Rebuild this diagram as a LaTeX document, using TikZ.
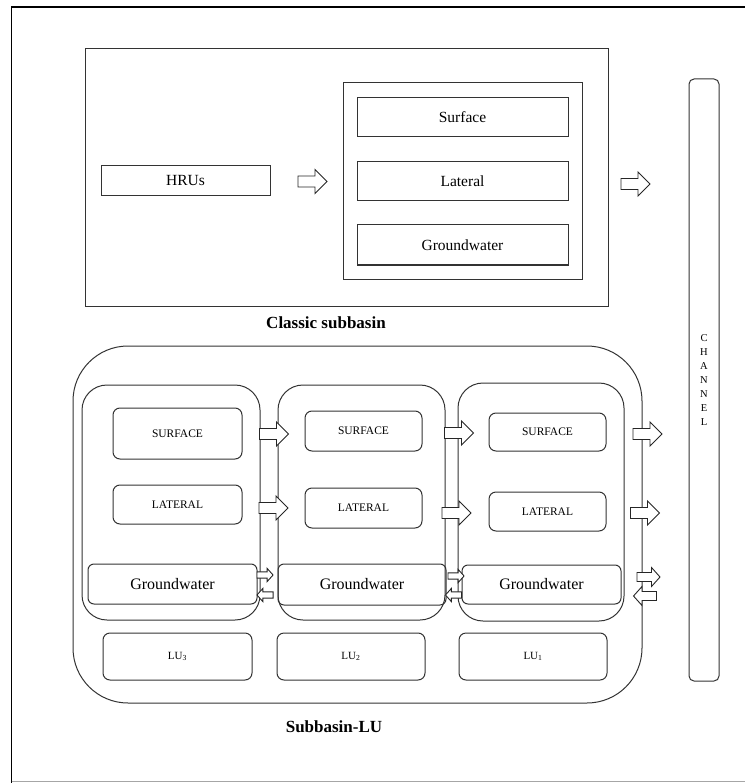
\documentclass[tikz,border=0pt]{standalone}
\usepackage{fontspec}
\setmainfont{Liberation Serif}
\usetikzlibrary{positioning}
\tikzset{>=latex,
    box/.style={draw=black!80, line width=1pt, inner sep=0pt, align=center},
    flatbox/.style={box, font=\fontsize{15.5}{18}\selectfont},
    capbox/.style={box, rounded corners=7pt, font=\fontsize{11.5}{14}\selectfont},
    gwbox/.style={box, rounded corners=6pt, font=\fontsize{16}{19}\selectfont},
    lubox/.style={box, rounded corners=7pt, font=\fontsize{11}{13}\selectfont},
    column/.style={box, rounded corners=25pt},
    title/.style={font=\bfseries\fontsize{17}{20}\selectfont},
    flowline/.style={draw=black!85, line width=0.9pt, fill=white, line join=miter},
    bigflow/.pic={\path[flowline] (-14.5,-5.5) -- (2.5,-5.5) -- (2.5,-12) -- (14.5,0)
        -- (2.5,12) -- (2.5,5.5) -- (-14.5,5.5) -- cycle;},
    smallflow/.pic={\path[flowline] (-11.5,-4.5) -- (3,-4.5) -- (3,-9.5) -- (11.5,0)
        -- (3,9.5) -- (3,4.5) -- (-11.5,4.5) -- cycle;}}

\begin{document}
\begin{tikzpicture}[x=1pt, y=-1pt]
    \useasboundingbox (0,0) rectangle (745,783);
    % page frame
    \draw[line width=1.8pt] (11.5,783) -- (11.5,6.7) -- (745,6.7);
    \draw[black!35, line width=1.4pt] (11.5,781.7) -- (745,781.7);

    % classic subbasin
    \node[box, minimum width=523, minimum height=257] (classic) at (346.5,177.5) {};
    \node[box, minimum width=239, minimum height=196] (routing) at (462.5,181) {};
    \node[flatbox, minimum width=211, minimum height=39] (surf) at (462.5,117.5) {Surface};
    \node[flatbox, minimum width=211, minimum height=39] (lat) at (462.5,181.5) {Lateral};
    \node[flatbox, minimum width=211, minimum height=40] (gw) at (462.5,245) {Groundwater};
    \node[flatbox, minimum width=169, minimum height=30] (hru) at (185.5,181) {HRUs};
    \pic at (312.5,181.5) {bigflow};
    \pic at (635.5,184) {bigflow};
    \node[title] (classiclabel) at (326,323) {Classic subbasin};

    % channel
    \node[box, rounded corners=5pt, minimum width=30, minimum height=602,
        font=\fontsize{10.5}{14}\selectfont] (channel) at (704,380)
        {C\\H\\A\\N\\N\\E\\L};

    % subbasin with landscape units
    \node[box, rounded corners=55pt, minimum width=569, minimum height=357] (lusub) at (357.5,524.5) {};
    \node[column, minimum width=178, minimum height=235] (col3) at (171,502.5) {};
    \node[column, minimum width=167, minimum height=235] (col2) at (361.5,502.5) {};
    \node[column, minimum width=166, minimum height=238] (col1) at (541,502) {};

    \node[capbox, minimum width=129, minimum height=51] (surf3) at (177.5,433.5) {SURFACE};
    \node[capbox, minimum width=117, minimum height=40] (surf2) at (363.5,431) {SURFACE};
    \node[capbox, minimum width=117, minimum height=38] (surf1) at (547.5,432) {SURFACE};
    \node[capbox, minimum width=129, minimum height=39] (lat3) at (177.5,504.5) {LATERAL};
    \node[capbox, minimum width=117, minimum height=40] (lat2) at (363.5,508) {LATERAL};
    \node[capbox, minimum width=117, minimum height=39] (lat1) at (547.5,511.5) {LATERAL};
    \node[gwbox, minimum width=169, minimum height=40] (gw3) at (172.5,584) {Groundwater};
    \node[gwbox, minimum width=168, minimum height=41] (gw2) at (362,584.5) {Groundwater};
    \node[gwbox, minimum width=159, minimum height=39] (gw1) at (541.5,584.5) {Groundwater};

    \node[lubox, minimum width=149, minimum height=47] (lu3) at (177.5,656.5) {LU\textsubscript{3}};
    \node[lubox, minimum width=148, minimum height=47] (lu2) at (351,656.5) {LU\textsubscript{2}};
    \node[lubox, minimum width=148, minimum height=47] (lu1) at (533,656.5) {LU\textsubscript{1}};

    % flows between units and to the channel
    \pic at (274,434) {bigflow};
    \pic at (273.5,508) {bigflow};
    \pic at (459,433) {bigflow};
    \pic at (456.5,513) {bigflow};
    \pic at (647.5,434) {bigflow};
    \pic at (645,513) {bigflow};
    \pic[scale=0.7] at (265,575) {smallflow};
    \pic[xscale=-0.7, yscale=0.7] at (265,595) {smallflow};
    \pic[scale=0.7] at (456,576) {smallflow};
    \pic[xscale=-0.7, yscale=0.7] at (453.5,595) {smallflow};
    \pic at (648.5,577) {smallflow};
    \pic[xscale=-1] at (645,596) {smallflow};

    \node[title] (lulabel) at (334,727) {Subbasin-LU};
\end{tikzpicture}
\end{document}
